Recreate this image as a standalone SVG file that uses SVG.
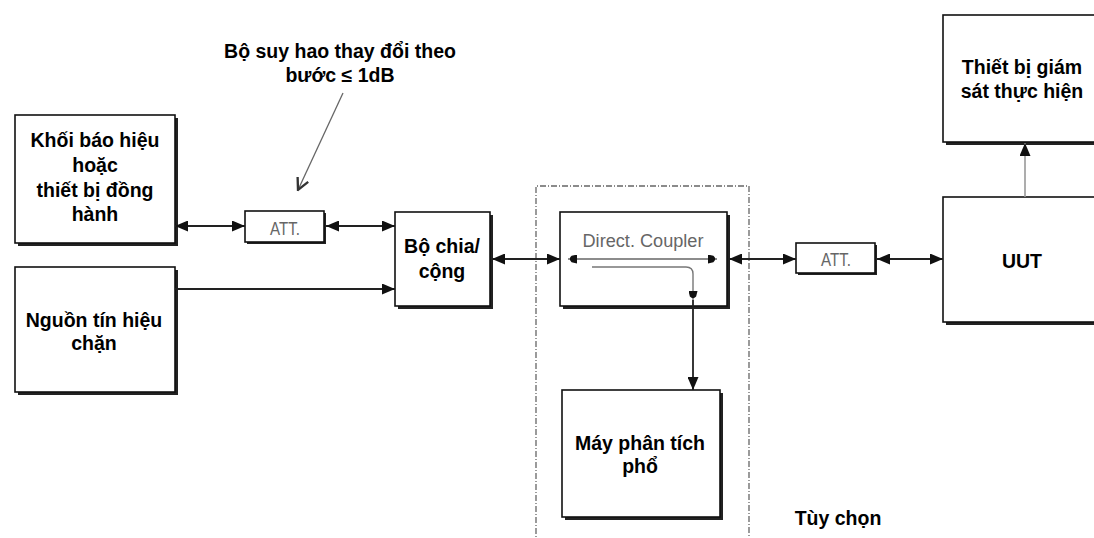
<svg xmlns="http://www.w3.org/2000/svg" width="1094" height="538" viewBox="0 0 1094 538">
<style>
.box{fill:#fff;stroke:#111;stroke-width:1.6}
.sh{fill:#222}
.t{font-family:"Liberation Sans",Arial,sans-serif;font-weight:bold;font-size:19.5px;fill:#000;text-anchor:middle}
.g{font-family:"Liberation Sans Narrow","Liberation Sans",Arial,sans-serif;fill:#666;text-anchor:middle}
.ln{stroke:#222;stroke-width:1.8;fill:none}
</style>
<defs>
<marker id="ah" viewBox="0 0 13 11" refX="13" refY="5.5" markerWidth="13" markerHeight="11" markerUnits="userSpaceOnUse" orient="auto-start-reverse">
<path d="M0,0 L13,5.5 L0,11 Z" fill="#111"/>
</marker>
<marker id="sm" viewBox="0 0 10 10" refX="10" refY="5" markerWidth="9" markerHeight="9" markerUnits="userSpaceOnUse" orient="auto-start-reverse">
<path d="M0,0 L6,1.5 Q10,5 6,8.5 L0,10 Z" fill="#111"/>
</marker>
<marker id="op" viewBox="0 0 12 12" refX="11" refY="6" markerWidth="14" markerHeight="14" markerUnits="userSpaceOnUse" orient="auto">
<path d="M1,1 L11,6 L1,11" fill="none" stroke="#333" stroke-width="2"/>
</marker>
</defs>

<g id="optional-frame">
<path d="M536,545 V186 H749 V545" fill="none" stroke="#666" stroke-width="1.3" stroke-dasharray="6,2,1,2"/>
</g>

<g id="n-khoi-bao-hieu">
<rect class="sh" x="18" y="118" width="160" height="128"/>
<rect class="box" x="15" y="115" width="160" height="128"/>
<text class="t" x="95" y="147">Khối báo hiệu</text>
<text class="t" x="95" y="172">hoặc</text>
<text class="t" x="95" y="197">thiết bị đồng</text>
<text class="t" x="95" y="221">hành</text>
</g>

<g id="n-nguon">
<rect class="sh" x="18" y="270" width="160" height="125"/>
<rect class="box" x="15" y="267" width="160" height="125"/>
<text class="t" x="94" y="327">Nguồn tín hiệu</text>
<text class="t" x="94" y="350">chặn</text>
</g>

<g id="n-att1">
<rect class="sh" x="247" y="213" width="79" height="31"/>
<rect class="box" x="245" y="211" width="79" height="31"/>
<text class="g" x="285" y="235" font-size="18" textLength="30" lengthAdjust="spacingAndGlyphs">ATT.</text>
</g>

<g id="n-bo-chia">
<rect class="sh" x="398" y="215" width="95" height="94"/>
<rect class="box" x="395" y="212" width="95" height="94"/>
<text class="t" x="442" y="253">Bộ chia/</text>
<text class="t" x="442" y="278">cộng</text>
</g>

<g id="n-coupler">
<rect class="sh" x="563" y="215" width="167" height="94"/>
<rect class="box" x="560" y="212" width="167" height="94"/>
<text class="g" x="643" y="247" font-size="18" textLength="121" lengthAdjust="spacingAndGlyphs">Direct. Coupler</text>
</g>

<g id="n-may-phan-tich">
<rect class="sh" x="565" y="393" width="158" height="127"/>
<rect class="box" x="562" y="390" width="158" height="127"/>
<text class="t" x="640" y="450">Máy phân tích</text>
<text class="t" x="640" y="473">phổ</text>
</g>

<g id="n-att2">
<rect class="sh" x="798" y="245" width="79" height="30"/>
<rect class="box" x="796" y="243" width="79" height="30"/>
<text class="g" x="836" y="266" font-size="18" textLength="30" lengthAdjust="spacingAndGlyphs">ATT.</text>
</g>

<g id="n-uut">
<rect class="sh" x="946" y="200" width="160" height="125"/>
<rect class="box" x="943" y="197" width="160" height="125"/>
<text class="t" x="1022" y="268">UUT</text>
</g>

<g id="n-giam-sat">
<rect class="sh" x="946" y="18" width="160" height="127"/>
<rect class="box" x="943" y="15" width="160" height="127"/>
<text class="t" x="1022" y="74">Thiết bị giám</text>
<text class="t" x="1022" y="98">sát thực hiện</text>
</g>

<g id="annotation">
<text class="t" x="340" y="58">Bộ suy hao thay đổi theo</text>
<text class="t" x="340" y="82">bước ≤ 1dB</text>
</g>

<g id="connectors">
<line class="ln" x1="175" y1="226" x2="245" y2="226" marker-start="url(#ah)" marker-end="url(#ah)"/>
<line class="ln" x1="326" y1="226" x2="395" y2="226" marker-start="url(#ah)" marker-end="url(#ah)"/>
<line class="ln" x1="175" y1="289" x2="395" y2="289" marker-end="url(#ah)"/>
<line class="ln" x1="492" y1="259" x2="560" y2="259" marker-start="url(#ah)" marker-end="url(#ah)"/>
<line class="ln" x1="729" y1="259" x2="796" y2="259" marker-start="url(#ah)" marker-end="url(#ah)"/>
<line class="ln" x1="877" y1="259" x2="943" y2="259" marker-start="url(#ah)" marker-end="url(#ah)"/>
<line x1="568" y1="259" x2="717" y2="259" stroke="#666" stroke-width="1.4" marker-start="url(#sm)" marker-end="url(#sm)"/>
<path d="M592,267 H686 Q693,267 693,274 V300" fill="none" stroke="#777" stroke-width="1.4" marker-end="url(#sm)"/>
<line class="ln" x1="693" y1="300" x2="693" y2="390" stroke="#444" marker-end="url(#ah)"/>
<line x1="1025" y1="197" x2="1025" y2="143" stroke="#999" stroke-width="1.6" marker-end="url(#ah)"/>
<line x1="343" y1="93" x2="298" y2="190" stroke="#666" stroke-width="1.3" marker-end="url(#op)"/>
<text class="t" x="838" y="525">Tùy chọn</text>
</g>
</svg>
